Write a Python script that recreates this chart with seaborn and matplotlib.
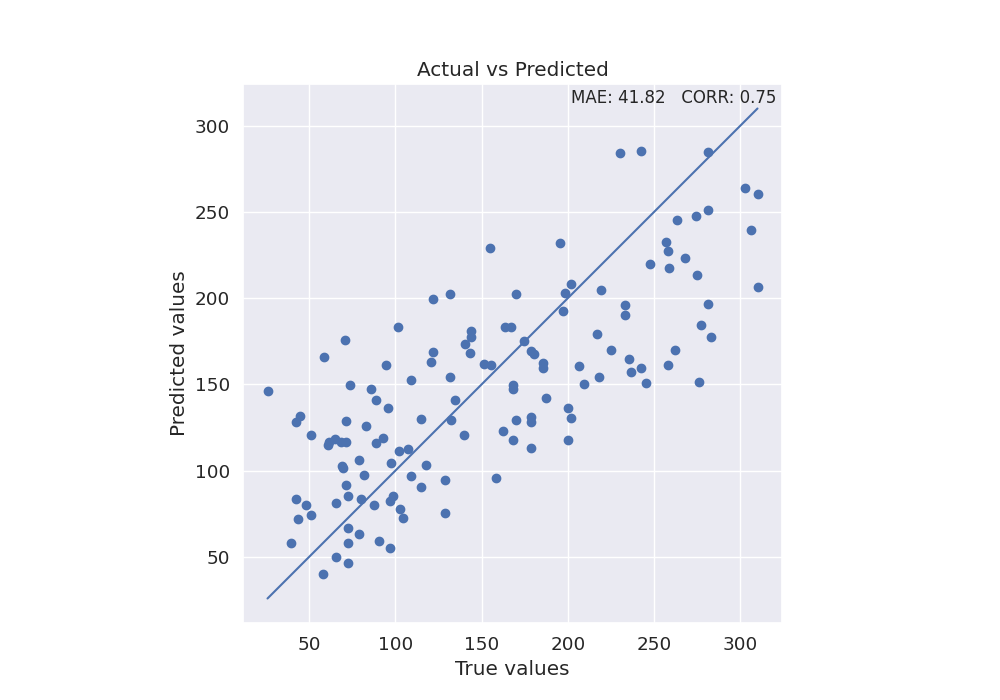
import matplotlib
matplotlib.use("Agg")
import matplotlib.pyplot as plt
import numpy as np
import pandas as pd
import seaborn as sns

BLUE = "#4c72b0"

# values
true_values = [
    58.3, 94.3, 109.3, 25.8, 73.4, 85.6, 88.5, 95.4, 44.4, 42.6,
    71.6, 83.2, 114.6, 51.3, 64.9, 61.0, 61.6, 68.4, 71.6, 88.5,
    92.5, 102.2, 107.0, 78.6, 69.1, 69.3, 97.2, 81.7, 109.3, 71.6,
    114.6, 72.2, 42.6, 65.3, 80.3, 48.4, 87.3, 98.3, 96.6, 102.4,
    104.1, 43.2, 51.3, 72.2, 78.6, 39.7, 72.2, 90.2, 96.6, 65.5,
    72.2, 57.7, 101.2, 70.5,
    155.0, 195.2, 121.5, 131.4, 170.2, 202.1, 198.1, 196.9, 163.7, 167.3,
    174.3, 144.1, 144.1, 140.1, 121.5, 143.0, 178.4, 180.1, 216.9, 219.4,
    120.4, 131.4, 151.1, 155.2, 185.3, 185.3, 206.2, 218.2, 209.1, 167.9,
    167.9, 134.3, 187.1, 132.0, 170.2, 178.4, 178.4, 199.8, 202.1, 162.1,
    139.5, 167.9, 178.9, 199.8, 118.0, 128.5, 158.1, 128.5,
    230.0, 242.2, 281.0, 302.5, 310.0, 281.0, 274.1, 263.5, 306.0, 256.7,
    257.8, 267.7, 247.8, 258.8, 274.7, 310.0, 232.9, 232.9, 281.0, 277.0,
    282.8, 224.8, 261.9, 235.2, 242.2, 236.9, 257.8, 245.6, 275.8,
]
predicted_values = [
    166.1, 161.5, 152.7, 146.3, 149.4, 147.5, 141.1, 136.5, 131.4, 127.9,
    128.5, 126.0, 129.7, 120.8, 118.4, 115.1, 116.3, 116.7, 116.7, 116.1,
    119.0, 111.5, 112.8, 106.4, 102.9, 101.6, 104.5, 97.5, 97.1, 91.7,
    90.5, 85.5, 83.5, 81.2, 83.7, 80.1, 80.1, 85.5, 82.6, 77.9,
    72.7, 71.9, 74.2, 66.7, 63.4, 58.0, 58.0, 59.1, 55.1, 49.8,
    46.3, 39.9, 183.0, 176.0,
    228.9, 231.8, 199.8, 202.7, 202.7, 208.5, 203.1, 192.3, 183.5, 183.5,
    175.4, 181.0, 177.7, 173.3, 168.8, 168.4, 169.4, 167.8, 179.5, 204.7,
    163.2, 154.5, 162.0, 161.5, 162.2, 159.7, 160.9, 154.5, 150.4, 149.8,
    147.1, 141.1, 142.3, 129.1, 129.1, 131.2, 128.3, 136.5, 130.6, 123.1,
    120.8, 117.8, 113.2, 117.8, 103.3, 94.6, 95.8, 75.4,
    284.1, 285.3, 284.7, 263.8, 260.5, 251.0, 247.5, 245.2, 239.4, 232.6,
    227.2, 223.1, 219.6, 217.4, 213.2, 206.2, 196.3, 190.5, 196.9, 184.3,
    177.7, 170.2, 170.2, 164.9, 159.7, 157.4, 161.5, 151.0, 151.6,
]
metrics_text = "MAE: 41.82   CORR: 0.75"


def main() -> None:
    sns.set_theme(style="darkgrid", font_scale=1.2)
    df = pd.DataFrame({"true": true_values, "pred": predicted_values})

    fig, ax = plt.subplots(figsize=(10, 7), dpi=100)
    sns.scatterplot(
        data=df, x="true", y="pred", color=BLUE,
        s=36, edgecolor=BLUE, linewidth=1.0, ax=ax,
    )
    lo, hi = df["true"].min(), df["true"].max()
    sns.lineplot(x=[lo, hi], y=[lo, hi], color=BLUE, linewidth=1.5, ax=ax)

    ax.set_aspect("equal")
    ax.set_title("Actual vs Predicted")
    ax.set_xlabel("True values")
    ax.set_ylabel("Predicted values")
    ax.text(0.99, 0.99, metrics_text, ha="right", va="top",
            transform=ax.transAxes, fontsize=12)

    fig.savefig("out.png", dpi=100)
    plt.close(fig)


if __name__ == "__main__":
    main()
